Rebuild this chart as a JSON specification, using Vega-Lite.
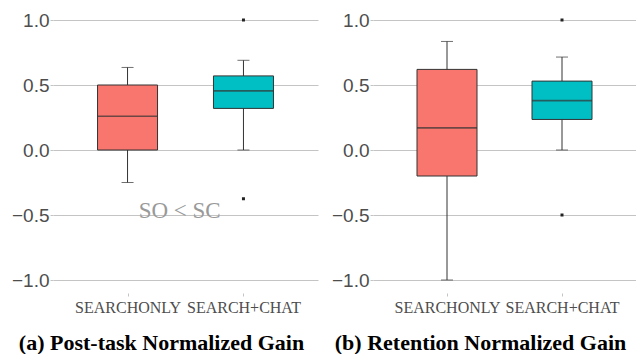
{
  "$schema": "https://vega.github.io/schema/vega-lite/v6.json",
  "padding": {"left": 5, "top": 7, "right": 0, "bottom": 0},
  "spacing": 7,
  "background": "white",
  "config": {
    "view": {"stroke": null},
    "axis": {"domain": false, "title": null},
    "style": {"guide-label": {"font": "Liberation Serif"}},
    "title": {"font": "Liberation Serif", "fontSize": 22, "fontWeight": "bold", "color": "black"}
  },
  "datasets": {
    "boxes": [
      {"panel": "a", "condition": "SearchOnly", "pos": 1, "lower": -0.25, "q1": 0.0, "median": 0.26, "q3": 0.5, "upper": 0.635},
      {"panel": "a", "condition": "Search+Chat", "pos": 2, "lower": 0.0, "q1": 0.32, "median": 0.455, "q3": 0.57, "upper": 0.69},
      {"panel": "b", "condition": "SearchOnly", "pos": 1, "lower": -1.0, "q1": -0.2, "median": 0.17, "q3": 0.62, "upper": 0.835},
      {"panel": "b", "condition": "Search+Chat", "pos": 2, "lower": 0.0, "q1": 0.235, "median": 0.38, "q3": 0.53, "upper": 0.715}
    ],
    "outliers": [
      {"panel": "a", "condition": "Search+Chat", "pos": 2, "value": 1.0},
      {"panel": "a", "condition": "Search+Chat", "pos": 2, "value": -0.375},
      {"panel": "b", "condition": "Search+Chat", "pos": 2, "value": 1.0},
      {"panel": "b", "condition": "Search+Chat", "pos": 2, "value": -0.5}
    ],
    "notes": [
      {"panel": "a", "pos": 1.45, "value": -0.47, "text": "SO < SC"}
    ]
  },
  "hconcat": [
    {
      "width": 265,
      "height": 286,
      "title": {"text": "(a) Post-task Normalized Gain", "orient": "bottom", "frame": "bounds", "anchor": "middle", "offset": 18},
      "layer": [
        {
          "data": {"name": "boxes"},
          "transform": [{"filter": "datum.panel == 'a'"}],
          "mark": {"type": "rule", "color": "#333333", "strokeWidth": 1},
          "encoding": {
            "x": {"field": "pos", "type": "quantitative", "title": null,
                  "scale": {"domain": [0.4, 2.6], "nice": false, "zero": false},
                  "axis": {"values": [1, 2], "labelExpr": "datum.value == 1 ? 'SEARCHONLY' : 'SEARCH+CHAT'",
                           "grid": false, "domain": false, "ticks": true, "tickSize": 3, "tickColor": "#c4c4c4",
                           "labelFont": "Liberation Serif", "labelFontSize": 16, "labelColor": "#4d4d4d", "labelPadding": 3}},
            "y": {"field": "lower", "type": "quantitative", "title": null,
                  "scale": {"domain": [-1.1, 1.1], "nice": false, "zero": false},
                  "axis": {"values": [-1, -0.5, 0, 0.5, 1], "format": ".1f",
                           "grid": true, "gridColor": "#c4c4c4", "gridWidth": 1, "domain": false,
                           "ticks": true, "tickSize": 3, "tickColor": "#c4c4c4",
                           "labelFont": "Liberation Sans", "labelFontSize": 19, "labelColor": "#4d4d4d",
                           "labelPadding": 1, "minExtent": 48, "maxExtent": 48}},
            "y2": {"field": "upper"}
          }
        },
        {
          "data": {"name": "boxes"},
          "transform": [{"filter": "datum.panel == 'a'"}],
          "mark": {"type": "tick", "orient": "horizontal", "color": "#333333", "size": 12, "thickness": 1},
          "encoding": {
            "x": {"field": "pos", "type": "quantitative", "title": null},
            "y": {"field": "lower", "type": "quantitative", "title": null}
          }
        },
        {
          "data": {"name": "boxes"},
          "transform": [{"filter": "datum.panel == 'a'"}],
          "mark": {"type": "tick", "orient": "horizontal", "color": "#333333", "size": 12, "thickness": 1},
          "encoding": {
            "x": {"field": "pos", "type": "quantitative", "title": null},
            "y": {"field": "upper", "type": "quantitative", "title": null}
          }
        },
        {
          "data": {"name": "boxes"},
          "transform": [{"filter": "datum.panel == 'a'"}],
          "mark": {"type": "bar", "orient": "vertical", "width": 60, "stroke": "#333333", "strokeWidth": 1, "opacity": 1},
          "encoding": {
            "x": {"field": "pos", "type": "quantitative", "title": null},
            "y": {"field": "q1", "type": "quantitative", "title": null},
            "y2": {"field": "q3"},
            "color": {"field": "condition", "type": "nominal", "legend": null,
                      "scale": {"domain": ["SearchOnly", "Search+Chat"], "range": ["#F8766D", "#00BFC4"]}}
          }
        },
        {
          "data": {"name": "boxes"},
          "transform": [{"filter": "datum.panel == 'a'"}],
          "mark": {"type": "tick", "orient": "horizontal", "color": "#333333", "size": 60, "thickness": 1.6},
          "encoding": {
            "x": {"field": "pos", "type": "quantitative", "title": null},
            "y": {"field": "median", "type": "quantitative", "title": null}
          }
        },
        {
          "data": {"name": "outliers"},
          "transform": [{"filter": "datum.panel == 'a'"}],
          "mark": {"type": "square", "color": "#222222", "size": 9, "opacity": 1},
          "encoding": {
            "x": {"field": "pos", "type": "quantitative", "title": null},
            "y": {"field": "value", "type": "quantitative", "title": null}
          }
        },
        {
          "data": {"name": "notes"},
          "transform": [{"filter": "datum.panel == 'a'"}],
          "mark": {"type": "text", "font": "Liberation Serif", "fontSize": 23, "color": "#999999", "baseline": "middle", "align": "center"},
          "encoding": {
            "x": {"field": "pos", "type": "quantitative", "title": null},
            "y": {"field": "value", "type": "quantitative", "title": null},
            "text": {"field": "text"}
          }
        }
      ]
    },
    {
      "width": 263,
      "height": 286,
      "title": {"text": "(b) Retention Normalized Gain", "orient": "bottom", "frame": "bounds", "anchor": "middle", "offset": 18},
      "layer": [
        {
          "data": {"name": "boxes"},
          "transform": [{"filter": "datum.panel == 'b'"}],
          "mark": {"type": "rule", "color": "#333333", "strokeWidth": 1},
          "encoding": {
            "x": {"field": "pos", "type": "quantitative", "title": null,
                  "scale": {"domain": [0.4, 2.6], "nice": false, "zero": false},
                  "axis": {"values": [1, 2], "labelExpr": "datum.value == 1 ? 'SEARCHONLY' : 'SEARCH+CHAT'",
                           "grid": false, "domain": false, "ticks": true, "tickSize": 3, "tickColor": "#c4c4c4",
                           "labelFont": "Liberation Serif", "labelFontSize": 16, "labelColor": "#4d4d4d", "labelPadding": 3}},
            "y": {"field": "lower", "type": "quantitative", "title": null,
                  "scale": {"domain": [-1.1, 1.1], "nice": false, "zero": false},
                  "axis": {"values": [-1, -0.5, 0, 0.5, 1], "format": ".1f",
                           "grid": true, "gridColor": "#c4c4c4", "gridWidth": 1, "domain": false,
                           "ticks": true, "tickSize": 3, "tickColor": "#c4c4c4",
                           "labelFont": "Liberation Sans", "labelFontSize": 19, "labelColor": "#4d4d4d",
                           "labelPadding": 1, "minExtent": 48, "maxExtent": 48}},
            "y2": {"field": "upper"}
          }
        },
        {
          "data": {"name": "boxes"},
          "transform": [{"filter": "datum.panel == 'b'"}],
          "mark": {"type": "tick", "orient": "horizontal", "color": "#333333", "size": 12, "thickness": 1},
          "encoding": {
            "x": {"field": "pos", "type": "quantitative", "title": null},
            "y": {"field": "lower", "type": "quantitative", "title": null}
          }
        },
        {
          "data": {"name": "boxes"},
          "transform": [{"filter": "datum.panel == 'b'"}],
          "mark": {"type": "tick", "orient": "horizontal", "color": "#333333", "size": 12, "thickness": 1},
          "encoding": {
            "x": {"field": "pos", "type": "quantitative", "title": null},
            "y": {"field": "upper", "type": "quantitative", "title": null}
          }
        },
        {
          "data": {"name": "boxes"},
          "transform": [{"filter": "datum.panel == 'b'"}],
          "mark": {"type": "bar", "orient": "vertical", "width": 60, "stroke": "#333333", "strokeWidth": 1, "opacity": 1},
          "encoding": {
            "x": {"field": "pos", "type": "quantitative", "title": null},
            "y": {"field": "q1", "type": "quantitative", "title": null},
            "y2": {"field": "q3"},
            "color": {"field": "condition", "type": "nominal", "legend": null,
                      "scale": {"domain": ["SearchOnly", "Search+Chat"], "range": ["#F8766D", "#00BFC4"]}}
          }
        },
        {
          "data": {"name": "boxes"},
          "transform": [{"filter": "datum.panel == 'b'"}],
          "mark": {"type": "tick", "orient": "horizontal", "color": "#333333", "size": 60, "thickness": 1.6},
          "encoding": {
            "x": {"field": "pos", "type": "quantitative", "title": null},
            "y": {"field": "median", "type": "quantitative", "title": null}
          }
        },
        {
          "data": {"name": "outliers"},
          "transform": [{"filter": "datum.panel == 'b'"}],
          "mark": {"type": "square", "color": "#222222", "size": 9, "opacity": 1},
          "encoding": {
            "x": {"field": "pos", "type": "quantitative", "title": null},
            "y": {"field": "value", "type": "quantitative", "title": null}
          }
        }
      ]
    }
  ]
}
